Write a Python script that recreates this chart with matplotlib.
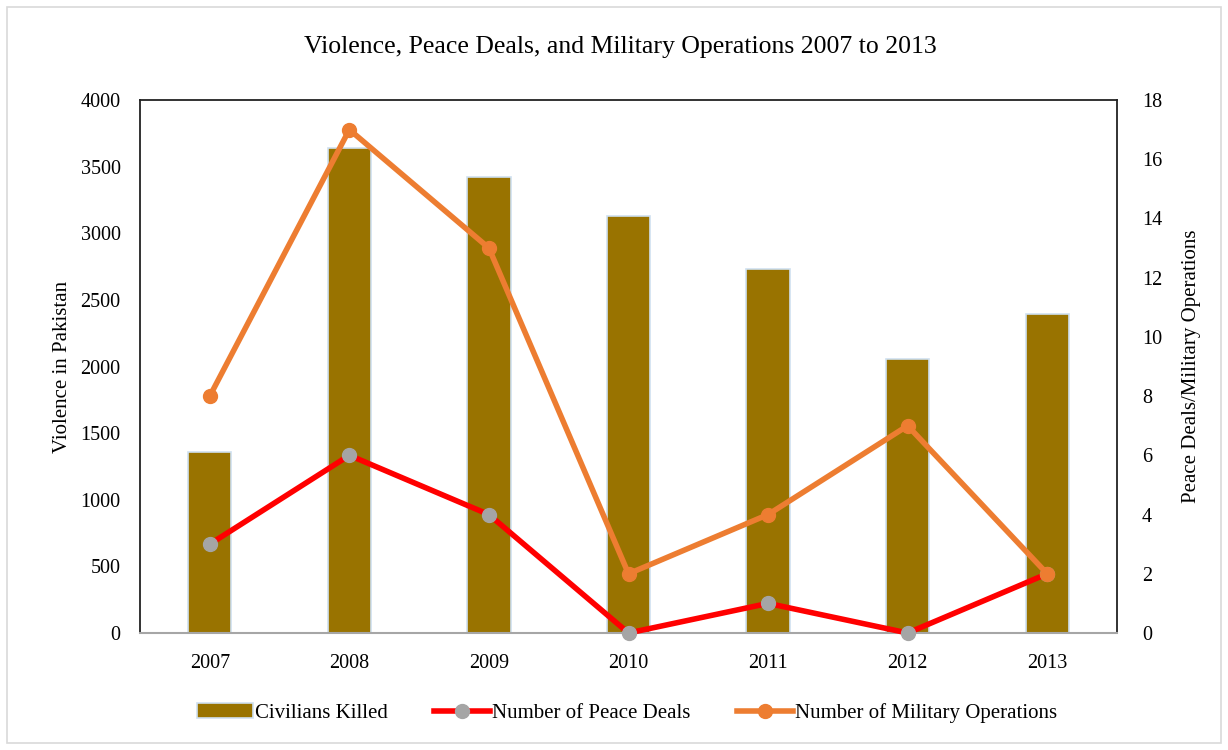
import matplotlib
matplotlib.use("Agg")
import matplotlib.pyplot as plt
from matplotlib.patches import Rectangle

years = ["2007", "2008", "2009", "2010", "2011", "2012", "2013"]
civilians_killed = [1360, 3640, 3420, 3130, 2735, 2055, 2395]
peace_deals = [3, 6, 4, 0, 1, 0, 2]
military_ops = [8, 17, 13, 2, 4, 7, 2]

plt.rcParams['font.family'] = ['Liberation Serif', 'DejaVu Serif']

fig = plt.figure(figsize=(12.28, 7.5), dpi=100)
ax = fig.add_axes([140/1228, 1-633/750, 977/1228, 533/750])
x = list(range(len(years)))

bars = ax.bar(x, civilians_killed, width=0.31, color='#997300', edgecolor='#cfe0f0', linewidth=1.2,
              label='Civilians Killed', zorder=2)
ax.set_ylim(0, 4000)
ax.set_xlim(-0.5, 6.5)
ax.set_yticks(range(0, 4001, 500))
ax.set_xticks(x)
ax.set_xticklabels(years)
ax.tick_params(axis='both', length=0, labelsize=14.5)
ax.tick_params(axis='x', pad=15)
ax.tick_params(axis='y', pad=14)
ax.set_ylabel('Violence in Pakistan', fontsize=15, labelpad=6)
for s in ['left', 'top', 'right']:
    ax.spines[s].set_color('#222222')
    ax.spines[s].set_linewidth(1.3)
ax.spines['bottom'].set_color('#a6a6a6')
ax.spines['bottom'].set_linewidth(1.5)

ax2 = ax.twinx()
ax2.set_ylim(0, 18)
ax2.set_yticks(range(0, 19, 2))
ax2.tick_params(axis='y', length=0, labelsize=14.5, pad=18)
ax2.set_ylabel('Peace Deals/Military Operations', fontsize=15, labelpad=14)
for s in ax2.spines.values():
    s.set_visible(False)

l1, = ax2.plot(x, peace_deals, color='#ff0000', linewidth=4, marker='o', markersize=10,
               markerfacecolor='#a5a5a5', markeredgecolor='#a5a5a5', label='Number of Peace Deals',
               zorder=3, clip_on=False)
l2, = ax2.plot(x, military_ops, color='#ed7d31', linewidth=4, marker='o', markersize=10,
               markerfacecolor='#ed7d31', markeredgecolor='#ed7d31', label='Number of Military Operations',
               zorder=4, clip_on=False)

fig.text(620/1228, 1-47/750, 'Violence, Peace Deals, and Military Operations 2007 to 2013',
         ha='center', va='center', fontsize=18.5)

fig.legend([bars, l1, l2], ['Civilians Killed', 'Number of Peace Deals', 'Number of Military Operations'],
           loc='center', bbox_to_anchor=(627/1228, 1-713/750), ncol=3, frameon=False,
           fontsize=15, handlelength=2.7, handletextpad=0.1, columnspacing=2.2)

fig.patches.append(Rectangle((7/1228, 7/750), 1214/1228, 736/750, transform=fig.transFigure,
                             fill=False, edgecolor='#d9d9d9', linewidth=1.2))

fig.savefig('out.png', dpi=100)
